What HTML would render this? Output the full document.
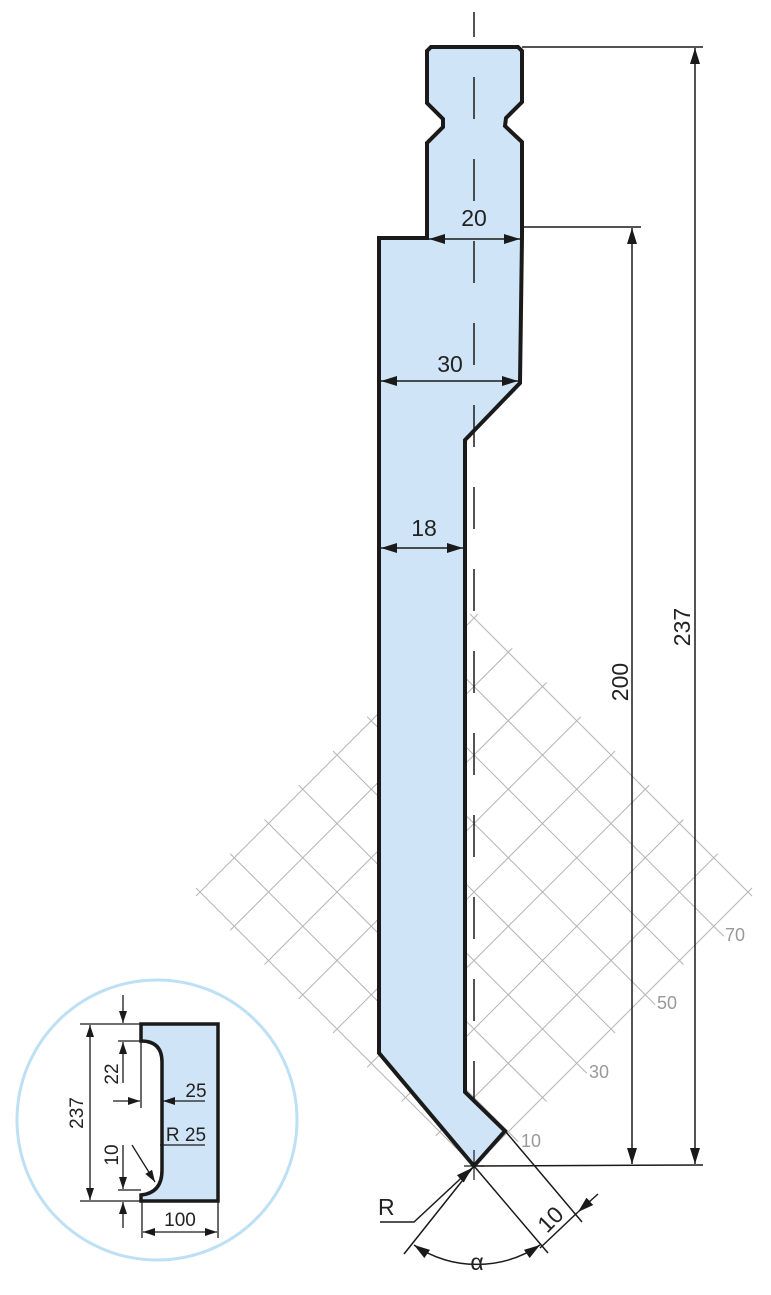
<!DOCTYPE html>
<html><head><meta charset="utf-8"><style>
html,body{margin:0;padding:0;background:#fff;}
svg{display:block;}
text{font-family:"Liberation Sans Narrow","Liberation Sans",sans-serif;fill:#222;}
</style></head><body>
<svg width="771" height="1295" viewBox="0 0 771 1295" xmlns="http://www.w3.org/2000/svg">
<defs>
<marker id="a" viewBox="0 0 12 8" refX="12" refY="4" markerWidth="12" markerHeight="8" orient="auto-start-reverse" markerUnits="userSpaceOnUse"><path d="M0,0 L12,4 L0,8 Z" fill="#1a1a1a"/></marker>
<marker id="b" viewBox="0 0 16 10" refX="16" refY="5" markerWidth="16" markerHeight="10" orient="auto-start-reverse" markerUnits="userSpaceOnUse"><path d="M0,0 L16,5 L0,10 Z" fill="#1a1a1a"/></marker>
</defs>

<!-- grid -->
<g stroke="#b5b5b5" stroke-width="1" fill="none" id="grid"></g>
<g font-size="18">
<text x="521" y="1147" style="fill:#999">10</text>
<text x="589" y="1078" style="fill:#999">30</text>
<text x="657" y="1009" style="fill:#999">50</text>
<text x="725" y="941" style="fill:#999">70</text>
</g>

<!-- punch -->
<path d="M431,47 L518,47 L522,51 L522,102 L506,118 L505,126 L522,142 L522,237 L520,383 L465,440 L465,1092 L505,1131 L474,1166 L379,1053 L379,238 L427,238 L427,143 L443,127 L443,119 L427,103 L427,51 Z" fill="#cfe5f7" stroke="#1a1a1a" stroke-width="4" stroke-linejoin="miter"/>

<!-- centerline -->
<line x1="474" y1="12" x2="474" y2="1120" stroke="#1a1a1a" stroke-width="1.5" stroke-dasharray="25,40,42,40,42,40,42,40,42,40,42,40,42,40,42,40,42,40,42,40,42,40,42,40,42,40,42,40,42,40"/>
<line x1="474" y1="1150" x2="474" y2="1180" stroke="#1a1a1a" stroke-width="1.2"/>
<line x1="464" y1="1166" x2="484" y2="1166" stroke="#1a1a1a" stroke-width="1.2"/>

<g stroke="#1a1a1a" stroke-width="1.5" fill="none">
<line x1="429" y1="239" x2="520" y2="239" marker-start="url(#b)" marker-end="url(#b)"/>
<line x1="381" y1="381" x2="518" y2="381" marker-start="url(#b)" marker-end="url(#b)"/>
<line x1="381" y1="548" x2="463" y2="548" marker-start="url(#b)" marker-end="url(#b)"/>
<line x1="522" y1="47" x2="703" y2="47"/>
<line x1="524" y1="227" x2="641" y2="227"/>
<line x1="474" y1="1166" x2="703" y2="1165"/>
<line x1="632" y1="228" x2="632" y2="1164" marker-start="url(#b)" marker-end="url(#b)"/>
<line x1="695" y1="48" x2="695" y2="1164" marker-start="url(#b)" marker-end="url(#b)"/>
<polyline points="380,1222 414,1222 472,1168" marker-end="url(#b)"/>
<line x1="474" y1="1166" x2="404" y2="1254"/>
<line x1="474" y1="1166" x2="548" y2="1253"/>
<line x1="506" y1="1132" x2="582" y2="1222"/>
<path d="M414,1245 A112,112 0 0 0 540,1245" marker-start="url(#b)" marker-end="url(#b)"/>
<line x1="540" y1="1248" x2="578" y2="1212"/>
<line x1="598" y1="1194" x2="578" y2="1212" marker-end="url(#b)"/>
</g>

<g font-size="23">
<text x="474" y="226" text-anchor="middle">20</text>
<text x="450" y="372" text-anchor="middle">30</text>
<text x="424" y="536" text-anchor="middle">18</text>
<text transform="translate(628,682) rotate(-90)" text-anchor="middle">200</text>
<text transform="translate(690,627) rotate(-90)" text-anchor="middle">237</text>
<text x="378" y="1215">R</text>
<text x="477" y="1270" text-anchor="middle">α</text>
<text transform="translate(556,1225) rotate(-45)" text-anchor="middle">10</text>
</g>

<!-- inset -->
<circle cx="157" cy="1120" r="140" fill="#fff" stroke="#bde0f5" stroke-width="3"/>
<path d="M141,1024 L218,1024 L218,1201 L141,1201 L141,1195 Q162,1193 162,1170 L162,1062 Q162,1041 141,1041 Z" fill="#cfe5f7" stroke="#1a1a1a" stroke-width="3.5"/>
<g stroke="#1a1a1a" stroke-width="1.3" fill="none">
<line x1="80" y1="1024" x2="141" y2="1024"/>
<line x1="80" y1="1201" x2="141" y2="1201"/>
<line x1="90" y1="1025" x2="90" y2="1200" marker-start="url(#a)" marker-end="url(#a)"/>
<line x1="118" y1="1041" x2="141" y2="1041"/>
<line x1="123" y1="995" x2="123" y2="1023" marker-end="url(#a)"/>
<line x1="123" y1="1083" x2="123" y2="1042" marker-end="url(#a)"/>
<line x1="141" y1="1041" x2="141" y2="1108"/>
<line x1="113" y1="1101" x2="140" y2="1101" marker-end="url(#a)"/>
<line x1="205" y1="1101" x2="163" y2="1101" marker-end="url(#a)"/>
<line x1="160" y1="1145" x2="205" y2="1145"/>
<line x1="132" y1="1145" x2="155" y2="1182" marker-end="url(#a)"/>
<line x1="123" y1="1145" x2="123" y2="1189" marker-end="url(#a)"/>
<line x1="118" y1="1190" x2="141" y2="1190"/>
<line x1="123" y1="1228" x2="123" y2="1202" marker-end="url(#a)"/>
<line x1="142" y1="1201" x2="142" y2="1238"/>
<line x1="218" y1="1201" x2="218" y2="1238"/>
<line x1="143" y1="1232" x2="217" y2="1232" marker-start="url(#a)" marker-end="url(#a)"/>
</g>
<g font-size="19">
<text transform="translate(83,1113) rotate(-90)" text-anchor="middle">237</text>
<text transform="translate(118,1074) rotate(-90)" text-anchor="middle">22</text>
<text x="196" y="1097" text-anchor="middle">25</text>
<text x="186" y="1141" text-anchor="middle">R 25</text>
<text transform="translate(118,1155) rotate(-90)" text-anchor="middle">10</text>
<text x="180" y="1226" text-anchor="middle">100</text>
</g>

<script>
(function(){
var g=document.getElementById('grid'),tx=474,ty=1166,s=34.25,ns='http://www.w3.org/2000/svg';
function L(x1,y1,x2,y2){var l=document.createElementNS(ns,'line');l.setAttribute('x1',x1);l.setAttribute('y1',y1);l.setAttribute('x2',x2);l.setAttribute('y2',y2);g.appendChild(l);}
for(var k=0;k<=8;k++){
 var ax=tx-k*s, ay=ty-k*s;
 L(ax-4,ay+4,ax+8*s+4,ay-8*s-4);
 var bx=tx+k*s, by=ty-k*s;
 var ext=(k%2==1)?10:4;
 L(bx-8*s-4,by-8*s-4,bx+ext,by+ext);
}
})();
</script>
</svg>
</body></html>
